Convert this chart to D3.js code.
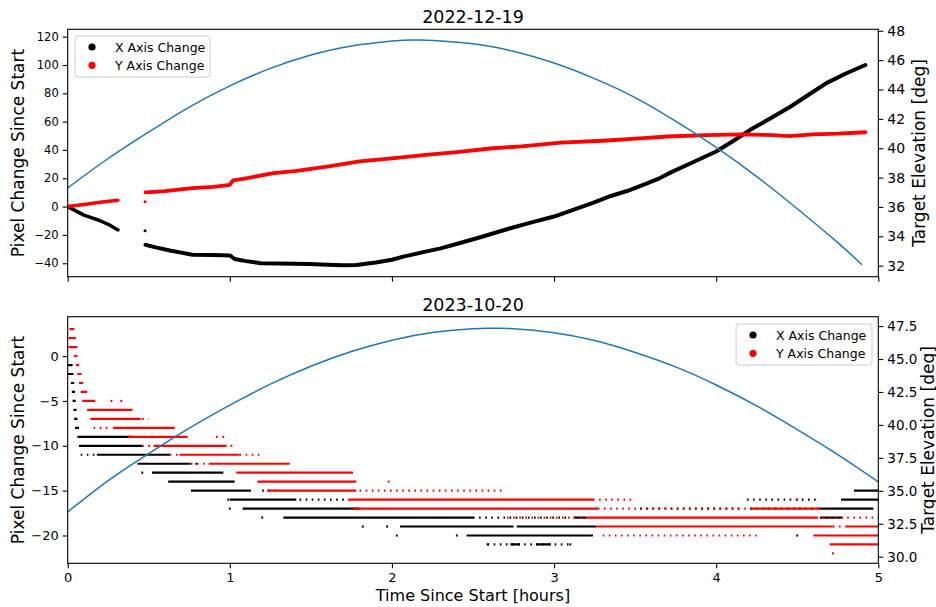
<!DOCTYPE html>
<html><head><meta charset="utf-8">
<script src="https://cdn.jsdelivr.net/npm/d3@7"></script>
<style>body{margin:0;background:#fff}text{font-family:"DejaVu Sans",sans-serif}</style>
</head><body><svg id="c" width="936" height="607"></svg>
<script>
// ---------- DATA ----------
const titles = ["2022-12-19", "2023-10-20"];
const xTicks = [0, 1, 2, 3, 4, 5];
const topLeftTicks = [-40, -20, 0, 20, 40, 60, 80, 100, 120];
const topRightTicks = [32, 34, 36, 38, 40, 42, 44, 46, 48];
const botLeftTicks = [-20, -15, -10, -5, 0];
const botRightTicks = [30, 32.5, 35, 37.5, 40, 42.5, 45, 47.5];
const seriesNames = ["X Axis Change", "Y Axis Change"];

// top panel (hours, pixel change)
const topXPart1 = [[0,0],[0.05,-3],[0.1,-6],[0.15,-8],[0.2,-10],[0.25,-12.5],[0.31,-16.5]];
const topXStray = [[0.477,-17]];
const topXPart2 = [[0.48,-27],[0.55,-29],[0.63,-31],[0.7,-32.5],[0.77,-34],[0.9,-34.2],[1.0,-34.5],[1.03,-37],[1.1,-38.5],[1.19,-40],[1.3,-40.2],[1.49,-40.5],[1.6,-41],[1.7,-41.5],[1.78,-41.2],[1.9,-39.5],[2.0,-37.5],[2.07,-35.3],[2.2,-32],[2.3,-29.5],[2.42,-25.7],[2.55,-21.5],[2.73,-15.3],[2.85,-11.5],[3.0,-7],[3.1,-3],[3.24,2.6],[3.35,7.5],[3.45,11],[3.53,14.5],[3.65,20],[3.73,24.7],[3.85,31],[4.0,38.9],[4.1,46],[4.21,54.2],[4.33,62],[4.46,70.7],[4.57,79],[4.68,87.2],[4.8,94],[4.92,100]];
const topYPart1 = [[0,0],[0.1,1.5],[0.2,3],[0.31,4.5]];
const topYStray = [[0.477,3.5]];
const topYPart2 = [[0.48,10],[0.6,11],[0.77,13],[0.9,14],[1.0,15.3],[1.02,18.5],[1.1,20],[1.27,23.6],[1.4,25],[1.6,28.3],[1.8,32],[2.0,34],[2.21,36.5],[2.4,38.5],[2.62,41.2],[2.8,42.5],[3.04,45.2],[3.3,46.5],[3.53,48.2],[3.7,49.5],[3.94,50.5],[4.15,51],[4.35,50.5],[4.45,49.8],[4.6,51],[4.75,51.5],[4.92,52.5]];
// target elevation (hours, deg)
const topElev = [[0,37.3],[0.25,39.3],[0.5,41.1],[0.75,42.8],[1.0,44.25],[1.25,45.44],[1.5,46.35],[1.75,46.97],[2.0,47.3],[2.17,47.37],[2.5,47.12],[2.75,46.6],[3.0,45.8],[3.25,44.74],[3.5,43.45],[3.75,41.84],[4.0,40.05],[4.25,38.07],[4.5,35.88],[4.75,33.57],[4.9,32.06]];

// bottom panel: runs [pixel value, start hr, end hr, kind]
const botXRuns = [
 [-1,0.0,0.03,"s"],[-2,0.0,0.035,"s"],[-3,0.02,0.04,"s"],[-4,0.025,0.045,"s"],[-5,0.03,0.05,"s"],
 [-6,0.035,0.055,"s"],[-7,0.04,0.06,"s"],[-8,0.045,0.07,"s"],
 [-9,0.06,0.40,"s"],[-10,0.07,0.46,"s"],[-11,0.08,0.18,"d"],[-11,0.18,0.63,"s"],
 [-12,0.43,0.75,"s"],[-12,0.75,0.82,"d"],[-13,0.52,0.96,"s"],[-14,0.62,1.03,"s"],
 [-15,0.76,1.13,"s"],[-15,1.2,1.31,"d"],[-16,1.0,1.41,"s"],[-16,1.43,1.72,"d"],
 [-17,1.08,1.8,"s"],[-18,1.33,2.5,"s"],[-18,2.5,3.1,"d"],[-18,3.12,3.2,"s"],
 [-19,2.05,2.75,"s"],[-19,2.77,3.26,"s"],[-20,2.46,3.24,"s"],
 [-21,2.73,2.79,"s"],[-21,2.89,2.98,"s"],[-21,2.59,3.1,"d"],
 [-17,3.53,4.15,"d"],[-17,4.21,4.64,"d"],[-17,4.64,4.97,"s"],
 [-16,4.19,4.64,"d"],[-16,4.77,5.0,"s"],[-15,4.85,5.0,"s"],[-18,4.64,4.78,"s"]
];
const botXStray = [[-13,0.46],[-16,0.99],[-17,1.0],[-18,1.2],[-19,1.82],[-19,1.97],[-20,2.03],[-20,2.4],[-21,2.59],[-21,3.1],[-20,4.5]];
const botYRuns = [
 [3,0.01,0.04,"s"],[2,0.005,0.05,"s"],[1,0.005,0.06,"s"],[0,0.04,0.06,"s"],[-1,0.05,0.07,"s"],
 [-2,0.06,0.085,"s"],[-3,0.07,0.095,"s"],[-4,0.08,0.12,"s"],[-5,0.09,0.17,"s"],
 [-6,0.12,0.40,"s"],[-7,0.14,0.45,"s"],[-7,0.46,0.50,"d"],[-8,0.16,0.27,"d"],[-8,0.28,0.66,"s"],
 [-9,0.37,0.74,"s"],[-10,0.46,0.52,"d"],[-10,0.53,0.98,"s"],[-11,0.63,0.68,"d"],[-11,0.69,1.06,"s"],[-11,1.06,1.19,"d"],
 [-12,0.76,0.85,"d"],[-12,0.87,1.37,"s"],[-13,1.04,1.76,"s"],[-14,1.17,1.78,"s"],
 [-15,1.23,1.78,"s"],[-15,1.8,2.7,"d"],[-16,1.73,3.24,"s"],[-16,3.24,3.5,"d"],
 [-17,1.76,3.27,"s"],[-17,3.27,4.2,"d"],[-17,4.21,4.64,"s"],
 [-18,2.71,3.2,"d"],[-18,3.2,4.62,"s"],[-18,4.62,5.0,"d"],
 [-19,3.26,4.72,"s"],[-19,4.72,4.8,"d"],[-19,4.8,5.0,"s"],
 [-20,3.3,4.25,"d"],[-20,4.6,5.0,"s"],[-21,4.7,5.0,"s"]
];
const botYStray = [[-5,0.27],[-5,0.33],[-9,0.92],[-9,0.96],[-10,1.01],[-14,1.98],[-22,4.72],[-16,4.5]];
const botElev = [[0,33.4],[0.25,35.78],[0.5,37.83],[0.75,39.75],[1.0,41.5],[1.25,43.09],[1.5,44.45],[1.75,45.57],[2.0,46.43],[2.25,47.01],[2.5,47.3],[2.62,47.33],[2.75,47.3],[3.0,46.99],[3.25,46.4],[3.5,45.5],[3.75,44.4],[4.0,43.03],[4.25,41.44],[4.5,39.65],[4.75,37.75],[5.0,35.68]];

// ---------- LAYOUT ----------
const svg = d3.select("#c");
const X0 = 67.7, X1 = 878.3;
const x = d3.scaleLinear().domain([0, 5]).range([X0, X1]);
const P = [
  {top: 29.3, bot: 276.7, ly: [-49.5, 125.2], ry: [31.25, 48.1], rlab: 924.5},
  {top: 316.7, bot: 563.3, ly: [-23.1, 4.39], ry: [29.5, 48.21], rlab: 933.5}
];
const blue = "#1f77b4";

P.forEach((p, i) => {
  p.yl = d3.scaleLinear().domain(p.ly).range([p.bot, p.top]);
  p.yr = d3.scaleLinear().domain(p.ry).range([p.bot, p.top]);
  p.g = svg.append("g");
  p.g.append("clipPath").attr("id", "clip" + i).append("rect")
    .attr("x", X0).attr("y", p.top).attr("width", X1 - X0).attr("height", p.bot - p.top);
  p.plot = p.g.append("g").attr("clip-path", `url(#clip${i})`);
});

// ---------- TOP PANEL ----------
{
  const p = P[0];
  const line = d3.line().x(d => x(d[0])).y(d => p.yl(d[1]));
  const band = (data, col, w) => p.plot.append("path").attr("d", line(data))
     .attr("fill", "none").attr("stroke", col).attr("stroke-width", w)
     .attr("stroke-linejoin", "round").attr("stroke-linecap", "round");
  band(topXPart1, "#000", 3.5);
  band(topXPart2, "#000", 4);
  p.plot.selectAll(".sx").data(topXStray).join("circle").attr("cx", d => x(d[0])).attr("cy", d => p.yl(d[1])).attr("r", 1.5).attr("fill", "#000");
  band(topYPart1, "red", 3.5);
  band(topYPart2, "red", 3.8);
  p.plot.selectAll(".sy").data(topYStray).join("circle").attr("cx", d => x(d[0])).attr("cy", d => p.yl(d[1])).attr("r", 1.5).attr("fill", "red");
  const el = d3.line().curve(d3.curveNatural).x(d => x(d[0])).y(d => p.yr(d[1]));
  p.plot.append("path").attr("d", el(topElev)).attr("fill", "none").attr("stroke", blue).attr("stroke-width", 1.5);
}

// ---------- BOTTOM PANEL ----------
{
  const p = P[1];
  const runs = (data, col) => {
    p.plot.append("g").selectAll("line").data(data).join("line")
      .attr("x1", d => x(d[1])).attr("x2", d => x(d[2]))
      .attr("y1", d => p.yl(d[0])).attr("y2", d => p.yl(d[0]))
      .attr("stroke", col).attr("stroke-width", 2.2)
      .attr("stroke-dasharray", d => d[3] === "d" ? "1.6,4.5" : null);
  };
  const strays = (data, col) => {
    p.plot.append("g").selectAll("rect").data(data).join("rect")
      .attr("x", d => x(d[1]) - 0.9).attr("y", d => p.yl(d[0]) - 1.1)
      .attr("width", 1.8).attr("height", 2.2).attr("fill", col);
  };
  runs(botXRuns, "#000"); strays(botXStray, "#000");
  runs(botYRuns, "red"); strays(botYStray, "red");
  const el = d3.line().curve(d3.curveNatural).x(d => x(d[0])).y(d => p.yr(d[1]));
  p.plot.append("path").attr("d", el(botElev)).attr("fill", "none").attr("stroke", blue).attr("stroke-width", 1.5);
}

// ---------- AXES ----------
function styleAxis(g, fs) {
  g.select(".domain").remove();
  g.selectAll(".tick line").attr("stroke", "#000").attr("stroke-width", 1.1);
  g.selectAll(".tick text").attr("fill", "#000").style("font-size", fs + "px").style("font-family", "DejaVu Sans");
}
const fmtR = [d3.format("d"), d3.format(".1f")];
const leftT = [topLeftTicks, botLeftTicks], rightT = [topRightTicks, botRightTicks];
const lfs = [11.5, 13], rfs = [14, 13.5];
P.forEach((p, i) => {
  const gl = p.g.append("g").attr("transform", `translate(${X0},0)`)
    .call(d3.axisLeft(p.yl).tickValues(leftT[i]).tickSize(5).tickPadding(4).tickFormat(d3.format("d")));
  styleAxis(gl, lfs[i]);
  const gr = p.g.append("g").attr("transform", `translate(${X1},0)`)
    .call(d3.axisRight(p.yr).tickValues(rightT[i]).tickSize(5).tickPadding(4).tickFormat(fmtR[i]));
  styleAxis(gr, rfs[i]);
  const gx = p.g.append("g").attr("transform", `translate(0,${p.bot})`)
    .call(d3.axisBottom(x).tickValues(xTicks).tickSize(5).tickPadding(4).tickFormat(i === 0 ? "" : d3.format("d")));
  styleAxis(gx, 13);
  p.g.append("rect").attr("x", X0).attr("y", p.top).attr("width", X1 - X0).attr("height", p.bot - p.top)
    .attr("fill", "none").attr("stroke", "#000").attr("stroke-width", 1.1);
  // titles and labels
  p.g.append("text").attr("x", (X0 + X1) / 2).attr("y", p.top - 6).attr("text-anchor", "middle")
    .style("font-size", "17.5px").text(titles[i]);
  const cy = (p.top + p.bot) / 2;
  p.g.append("text").attr("transform", `translate(23.5,${cy}) rotate(-90)`).attr("text-anchor", "middle")
    .style("font-size", "17px").text("Pixel Change Since Start");
  p.g.append("text").attr("transform", `translate(${p.rlab},${cy}) rotate(-90)`).attr("text-anchor", "middle")
    .style("font-size", "17px").text("Target Elevation [deg]");
});
svg.append("text").attr("x", (X0 + X1) / 2).attr("y", 601).attr("text-anchor", "middle")
  .style("font-size", "16px").text("Time Since Start [hours]");

// ---------- LEGENDS ----------
const colors = ["#000", "red"];
function legend(bx, by, w, h) {
  const g = svg.append("g");
  g.append("rect").attr("x", bx).attr("y", by).attr("width", w).attr("height", h).attr("rx", 3)
    .attr("fill", "#fff").attr("fill-opacity", 0.8).attr("stroke", "#ccc").attr("stroke-width", 1);
  seriesNames.forEach((n, k) => {
    const yy = by + 11 + k * 18.3;
    g.append("circle").attr("cx", bx + 17).attr("cy", yy).attr("r", 3.6).attr("fill", colors[k]);
    g.append("text").attr("x", bx + 40).attr("y", yy + 4.5).style("font-size", "12.5px").text(n);
  });
}
legend(75, 36, 135, 41);
legend(736, 324, 136, 41);
</script></body></html>
